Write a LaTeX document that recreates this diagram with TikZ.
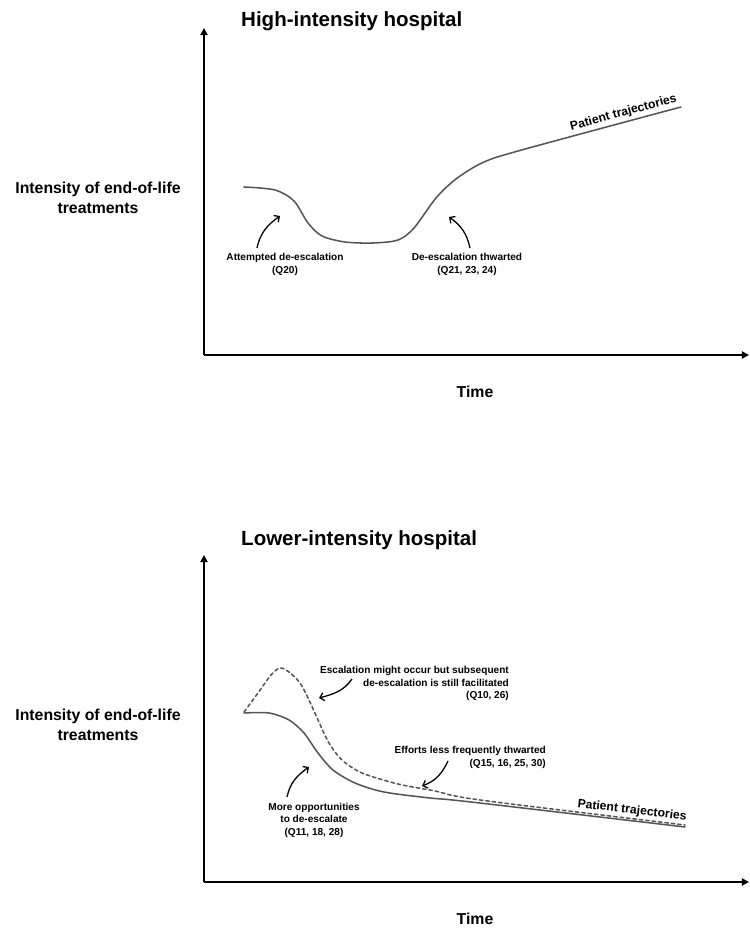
\documentclass[tikz,border=0pt]{standalone}
\usepackage{fontspec}
\setmainfont{Liberation Sans}
\usepackage{tikz}
\usetikzlibrary{arrows.meta}
\definecolor{curvegray}{RGB}{85,85,85}

\begin{document}
\begin{tikzpicture}[x=0.03cm, y=0.03cm,
    axis/.style={line width=1.5pt, -{Triangle[length=6pt,width=6pt]}},
    trajectory/.style={line width=1.3pt, curvegray, line cap=round},
    noteline/.style={line width=1.1pt, -{Straight Barb[length=3.5pt,width=7pt]}},
    note/.style={font=\fontsize{8.6}{10.6}\selectfont\bfseries, inner sep=0pt},
    trajlabel/.style={font=\fontsize{10.4}{12}\selectfont\bfseries, inner sep=3pt, anchor=south},
    axislabel/.style={font=\fontsize{13.5}{17}\selectfont\bfseries, inner sep=0pt}]
    \useasboundingbox (0,0) rectangle (749,928);

    % Axes, titles and axis labels
    \foreach \base/\ty/\name/\ttl in {
        573/901/high/High-intensity hospital,
        46/382/low/Lower-intensity hospital
    } {
        \coordinate (origin-\name) at (204,\base);
        \coordinate (ytop-\name) at (204,{\base+327});
        \coordinate (xend-\name) at (749,\base);
        \draw[axis] (origin-\name) -- (ytop-\name);
        \draw[axis] (origin-\name) -- (xend-\name);
        \node[anchor=base west, font=\fontsize{17.5}{21}\selectfont\bfseries, inner sep=0pt] (title-\name) at (241,\ty) {\ttl};
        \node[axislabel, align=center] (ylabel-\name) at (98,{\base+157}) {Intensity of end-of-life\\treatments};
        \node[axislabel] (time-\name) at (475,{\base-37}) {Time};
    }

    % High-intensity trajectory
    \draw[trajectory] plot[smooth, tension=0.5] coordinates {
        (244,741) (275,738) (294,727) (308,705) (322,692) (345,686) (373,685)
        (398,688) (414,700) (436,730) (456,749) (482,765) (518,777) (681,821)};
    \node[trajlabel, rotate=15.3] (traj-high) at (626,806) {Patient trajectories};

    % High-intensity notes
    \node[note, align=center] (attempt) at (285,663.5) {Attempted de-escalation\\(Q20)};
    \node[note, align=center] (thwart) at (467,663.5) {De-escalation thwarted\\(Q21, 23, 24)};
    \coordinate (attempt-tail) at (257,680);
    \coordinate (attempt-tip) at (280,712);
    \coordinate (thwart-tail) at (470,680);
    \coordinate (thwart-tip) at (449,711);
    \draw[noteline] (attempt-tail) to[out=78, in=215] (attempt-tip);
    \draw[noteline] (thwart-tail) to[out=102, in=325] (thwart-tip);

    % Lower-intensity trajectories
    \draw[trajectory] plot[smooth, tension=0.5] coordinates {
        (244,215) (269,215) (289,208) (304,195) (318,175) (333,158) (355,145)
        (384,136) (430,130) (471,126) (685,101)};
    \draw[trajectory, dash pattern=on 3pt off 2.5pt] plot[smooth, tension=0.5] coordinates {
        (244,216) (258,235) (271,253) (280,260) (289,256) (300,245) (309,228)
        (318,208) (329,185) (342,168) (362,155) (398,144) (435,137) (480,128) (685,103)};
    \node[trajlabel, rotate=-6.7] (traj-low) at (631,108) {Patient trajectories};

    % Lower-intensity notes
    \node[note, align=right, anchor=east] (escalate) at (509,244.5) {Escalation might occur but subsequent\\de-escalation is still facilitated\\(Q10, 26)};
    \node[note, align=right, anchor=east] (efforts) at (546,170.5) {Efforts less frequently thwarted\\(Q15, 16, 25, 30)};
    \node[note, align=center] (chances) at (314,108) {More opportunities\\to de-escalate\\(Q11, 18, 28)};
    \coordinate (escalate-tail) at (352,249);
    \coordinate (escalate-tip) at (319,230);
    \coordinate (efforts-tail) at (448,167);
    \coordinate (efforts-tip) at (422,142);
    \coordinate (chances-tail) at (287,131);
    \coordinate (chances-tip) at (309,161);
    \draw[noteline] (escalate-tail) to[out=235, in=15] (escalate-tip);
    \draw[noteline] (efforts-tail) to[out=245, in=20] (efforts-tip);
    \draw[noteline] (chances-tail) to[out=78, in=215] (chances-tip);
\end{tikzpicture}
\end{document}
